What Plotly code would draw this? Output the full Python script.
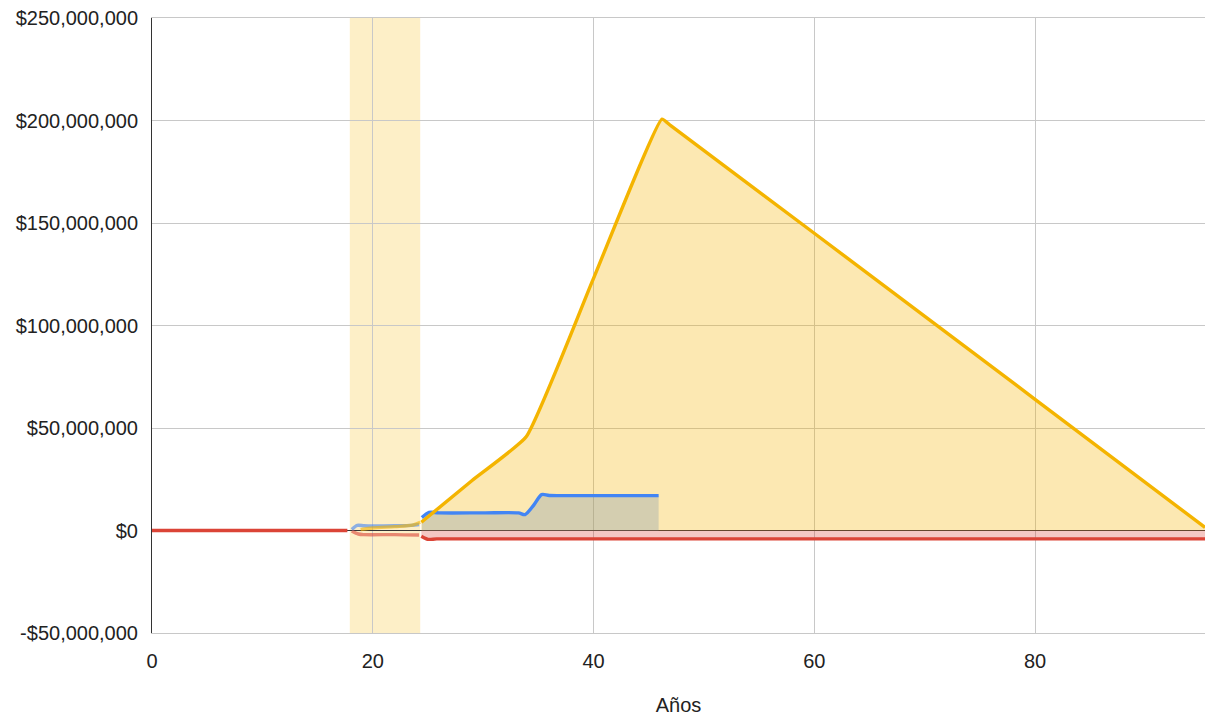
import plotly.graph_objects as go

# ---- data (values in millions of dollars) ----
# period before the highlighted window
pre_years = [0, 17.7]
pre_red = [0.0, 0.0]

# highlighted window (18 - 24.3)
win_start, win_end = 17.92, 24.3
win_blue_years = [18.1, 18.6, 19.2, 20.0, 22.0, 23.5, 24.2]
win_blue = [0.5, 2.5, 2.3, 2.2, 2.3, 2.5, 2.9]
win_red_years = [18.1, 18.7, 19.2, 22.0, 24.2]
win_red = [-0.2, -1.7, -2.0, -2.0, -2.2]
win_yellow_years = [18.9, 20.0, 22.0, 23.6, 24.3]
win_yellow = [0.4, 1.2, 1.9, 2.6, 4.0]

# main period
blue_years = [24.45, 25.1, 26.0, 30.0, 33.2, 33.8, 34.6, 35.3, 36.0, 40.0, 45.9]
blue_vals = [6.3, 8.8, 8.6, 8.6, 8.6, 7.8, 12.5, 17.5, 17.1, 17.0, 17.0]

red_years = [24.4, 25.0, 25.8, 30.0, 60.0, 95.4]
red_vals = [-2.8, -4.3, -4.1, -4.1, -4.1, -4.1]

yellow_years = [24.4, 29.0, 33.9, 40.0, 46.2, 47.0, 60.0, 80.0, 95.4]
yellow_vals = [4.0, 24.4, 45.7, 123.0, 200.7, 197.5, 145.0, 64.0, 1.5]

x_ticks = [0, 20, 40, 60, 80]
y_ticks = [-50, 0, 50, 100, 150, 200, 250]
y_tick_text = ["-$50,000,000", "$0", "$50,000,000", "$100,000,000",
               "$150,000,000", "$200,000,000", "$250,000,000"]

M = 1e6
BLUE = "#4285F4"
RED = "#DB4437"
YELLOW = "#F4B400"
LW = 3.4


def scale(vals):
    return [v * M for v in vals]


fig = go.Figure()

# area fills (drawn first so every line sits on top)
fig.add_trace(go.Scatter(x=blue_years, y=scale(blue_vals), mode="lines",
                         line=dict(width=0, shape="spline", smoothing=0.8),
                         fill="tozeroy", fillcolor="rgba(66,133,244,0.3)",
                         hoverinfo="skip", showlegend=False))
fig.add_trace(go.Scatter(x=yellow_years, y=scale(yellow_vals), mode="lines",
                         line=dict(width=0, shape="spline", smoothing=0.4),
                         fill="tozeroy", fillcolor="rgba(244,180,0,0.3)",
                         hoverinfo="skip", showlegend=False))
fig.add_trace(go.Scatter(x=red_years, y=scale(red_vals), mode="lines",
                         line=dict(width=0, shape="spline", smoothing=0.8),
                         fill="tozeroy", fillcolor="rgba(219,68,55,0.3)",
                         hoverinfo="skip", showlegend=False))

# lines before the window
fig.add_trace(go.Scatter(x=pre_years, y=scale(pre_red), mode="lines",
                         line=dict(color=RED, width=LW), showlegend=False))

# faded lines inside the window
for xs, ys, col in [(win_red_years, win_red, RED),
                    (win_blue_years, win_blue, BLUE),
                    (win_yellow_years, win_yellow, YELLOW)]:
    fig.add_trace(go.Scatter(x=xs, y=scale(ys), mode="lines", opacity=0.6,
                             line=dict(color=col, width=LW, shape="spline", smoothing=0.8),
                             showlegend=False))

# main lines
fig.add_trace(go.Scatter(x=red_years, y=scale(red_vals), mode="lines",
                         line=dict(color=RED, width=LW, shape="spline", smoothing=0.8),
                         showlegend=False))
fig.add_trace(go.Scatter(x=blue_years, y=scale(blue_vals), mode="lines",
                         line=dict(color=BLUE, width=LW, shape="spline", smoothing=0.8),
                         showlegend=False))
fig.add_trace(go.Scatter(x=yellow_years, y=scale(yellow_vals), mode="lines",
                         line=dict(color=YELLOW, width=LW, shape="spline", smoothing=0.4),
                         showlegend=False))

# highlighted window
fig.add_shape(type="rect", xref="x", yref="paper", x0=win_start, x1=win_end,
              y0=0, y1=1, fillcolor="rgba(244,180,0,0.22)", line=dict(width=0),
              layer="between")

FONT = "Liberation Sans, Arial, sans-serif"
GRID = "#C8C8C8"
fig.update_layout(
    width=1205, height=716,
    margin=dict(l=152, r=0, t=18, b=83),
    paper_bgcolor="white", plot_bgcolor="white",
    font=dict(family=FONT, size=20, color="#222222"),
    xaxis=dict(range=[0, 95.4], tickvals=x_ticks, showgrid=True,
               gridcolor=GRID, gridwidth=1, zeroline=False,
               showline=True, linecolor=GRID, linewidth=1, mirror=True,
               ticks="", ticklabelstandoff=10,
               title=dict(text="Años", standoff=31, font=dict(size=20))),
    yaxis=dict(range=[-50 * M, 250 * M], tickvals=scale(y_ticks), ticktext=y_tick_text,
               showgrid=True, gridcolor=GRID, gridwidth=1,
               zeroline=True, zerolinecolor="#333333", zerolinewidth=1,
               showline=True, linecolor="#333333", linewidth=1,
               ticks="", ticklabelstandoff=9),
)

fig.write_html("out.html")
